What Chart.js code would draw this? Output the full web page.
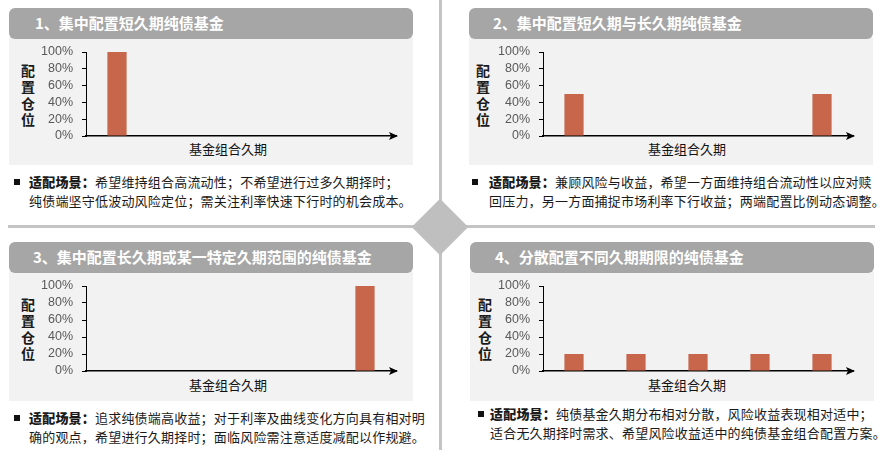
<!DOCTYPE html>
<html>
<head>
<meta charset="utf-8">
<script src="https://cdn.jsdelivr.net/npm/chart.js@4.4.1/dist/chart.umd.min.js"></script>
<style>
  body { margin: 0; background: #fff; }
  #page { position: relative; width: 885px; height: 459px; overflow: hidden; font-family: "Noto Sans CJK SC", sans-serif; }
  .abs { position: absolute; }
  .hline { background: #c4c4c4; height: 3px; }
  .vline { background: #c4c4c4; width: 3px; }
  .diamond { width: 40px; height: 40px; background: #bfbfbf; transform: rotate(45deg); }
  .head { background: #a6a6a6; border-radius: 6px; height: 31px; width: 404px; }
  .head span { position: absolute; top: 4px; color: #fff; font-weight: bold; font-size: 15px; line-height: 22px; white-space: nowrap; }
  .box { background: #f2f2f2; width: 404px; height: 128px; }
  .ytitle { font-size: 14px; font-weight: bold; color: #1a1a1a; line-height: 16.3px; width: 16px; text-align: center; }
  .xtitle { font-size: 13px; color: #111; white-space: nowrap; transform: translateX(-50%); line-height: 16px; }
  .note { font-size: 13px; color: #1a1a1a; line-height: 19px; letter-spacing: 0.2px; white-space: nowrap; }
  .note b { font-weight: 900; }
  .sq { display: inline-block; width: 6px; height: 6px; background: #111; }
  canvas { position: absolute; }
</style>
</head>
<body>
<div id="page">
  <div class="abs vline" style="left:439px; top:0; height:450px;"></div>
  <div class="abs hline" style="left:8px; top:225px; width:867px;"></div>
  <div class="abs diamond" style="left:420px; top:207px;"></div>

  <!-- panel 1 -->
  <div class="abs box" style="left:9px; top:37px;"></div>
  <div class="abs head" style="left:9px; top:8px;"><span style="left:26px;">1、集中配置短久期纯债基金</span></div>
  <div class="abs ytitle" style="left:20px; top:62px;">配<br>置<br>仓<br>位</div>
  <div class="abs xtitle" style="left:228px; top:141px;">基金组合久期</div>
  <canvas id="chart-1" style="left:36px; top:42px;" width="370" height="103"></canvas>
  <div class="abs sq" style="left:14px; top:179px;"></div>
  <div class="abs note" style="left:29px; top:172px;"><b>适配场景：</b>希望维持组合高流动性；不希望进行过多久期择时；<br>纯债端坚守低波动风险定位；需关注利率快速下行时的机会成本。</div>

  <!-- panel 2 -->
  <div class="abs box" style="left:469px; top:37px;"></div>
  <div class="abs head" style="left:469px; top:8px;"><span style="left:24px;">2、集中配置短久期与长久期纯债基金</span></div>
  <div class="abs ytitle" style="left:475px; top:62px;">配<br>置<br>仓<br>位</div>
  <div class="abs xtitle" style="left:687px; top:141px;">基金组合久期</div>
  <canvas id="chart-2" style="left:493px; top:42px;" width="370" height="103"></canvas>
  <div class="abs sq" style="left:472px; top:179px;"></div>
  <div class="abs note" style="left:489px; top:172px;"><b>适配场景：</b>兼顾风险与收益，希望一方面维持组合流动性以应对赎<br>回压力，另一方面捕捉市场利率下行收益；两端配置比例动态调整。</div>

  <!-- panel 3 -->
  <div class="abs box" style="left:9px; top:271px; height:130px;"></div>
  <div class="abs head" style="left:9px; top:242px;"><span style="left:24px;">3、集中配置长久期或某一特定久期范围的纯债基金</span></div>
  <div class="abs ytitle" style="left:20px; top:296px;">配<br>置<br>仓<br>位</div>
  <div class="abs xtitle" style="left:228px; top:377px;">基金组合久期</div>
  <canvas id="chart-3" style="left:36px; top:276px;" width="370" height="104"></canvas>
  <div class="abs sq" style="left:14px; top:415px;"></div>
  <div class="abs note" style="left:29px; top:408px;"><b>适配场景：</b>追求纯债端高收益；对于利率及曲线变化方向具有相对明<br>确的观点，希望进行久期择时；面临风险需注意适度减配以作规避。</div>

  <!-- panel 4 -->
  <div class="abs box" style="left:470px; top:271px; height:130px;"></div>
  <div class="abs head" style="left:470px; top:242px;"><span style="left:25px;">4、分散配置不同久期期限的纯债基金</span></div>
  <div class="abs ytitle" style="left:477px; top:296px;">配<br>置<br>仓<br>位</div>
  <div class="abs xtitle" style="left:687px; top:377px;">基金组合久期</div>
  <canvas id="chart-4" style="left:493px; top:276px;" width="370" height="104"></canvas>
  <div class="abs sq" style="left:478px; top:411px;"></div>
  <div class="abs note" style="left:490px; top:404px;"><b>适配场景：</b>纯债基金久期分布相对分散，风险收益表现相对适中；<br>适合无久期择时需求、希望风险收益适中的纯债基金组合配置方案。</div>
</div>

<script>
// duration buckets (not labelled on the chart)
const buckets = ['短久期', '中短久期', '中久期', '中长久期', '长久期'];

// position weight per bucket, %
const shortOnly = [100, 0, 0, 0, 0];
const barbell = [50, 0, 0, 0, 50];
const longOnly = [0, 0, 0, 0, 100];
const ladder = [20, 20, 20, 20, 20];

const yTickLabels = ['0%', '20%', '40%', '60%', '80%', '100%'];

const barColor = '#c8664b';

// arrow head at the end of the x axis
const arrowPlugin = {
    id: 'axisArrow',
    afterDraw(chart) {
        const { ctx, chartArea } = chart;
        const y = chartArea.bottom;
        const tip = chartArea.right + 2;
        ctx.save();
        ctx.fillStyle = '#000';
        ctx.beginPath();
        ctx.moveTo(tip, y);
        ctx.lineTo(tip - 9, y - 4);
        ctx.lineTo(tip - 7, y);
        ctx.lineTo(tip - 9, y + 4);
        ctx.closePath();
        ctx.fill();
        ctx.restore();
    }
};

function makeChart(id, values) {
    const ctx = document.getElementById(id);
    return new Chart(ctx, {
        type: 'bar',
        data: {
            labels: buckets,
            datasets: [{
                data: values,
                backgroundColor: barColor,
                barPercentage: 0.31,
                categoryPercentage: 1
            }]
        },
        options: {
            responsive: false,
            animation: false,
            layout: { padding: 0 },
            plugins: {
                legend: { display: false },
                tooltip: { enabled: false }
            },
            scales: {
                x: {
                    grid: { display: false },
                    ticks: { display: false },
                    border: { display: true, color: '#000', width: 1.6 },
                    afterFit(scale) {
                        scale.height = 9;
                        scale.paddingLeft = 0;
                        scale.paddingRight = 10;
                    }
                },
                y: {
                    min: 0,
                    max: 100,
                    ticks: {
                        stepSize: 20,
                        autoSkip: false,
                        padding: 9,
                        color: '#595959',
                        font: { family: 'Liberation Sans', size: 12.5 },
                        callback: (v) => yTickLabels[v / 20]
                    },
                    grid: { drawOnChartArea: false, tickLength: 4, color: '#000' },
                    border: { display: true, color: '#000', width: 1 },
                    afterFit(scale) {
                        scale.width = 50;
                        scale.paddingTop = 10;
                        scale.paddingBottom = 0;
                    }
                }
            }
        },
        plugins: [arrowPlugin]
    });
}

makeChart('chart-1', shortOnly);
makeChart('chart-2', barbell);
makeChart('chart-3', longOnly);
makeChart('chart-4', ladder);
</script>
</body>
</html>
